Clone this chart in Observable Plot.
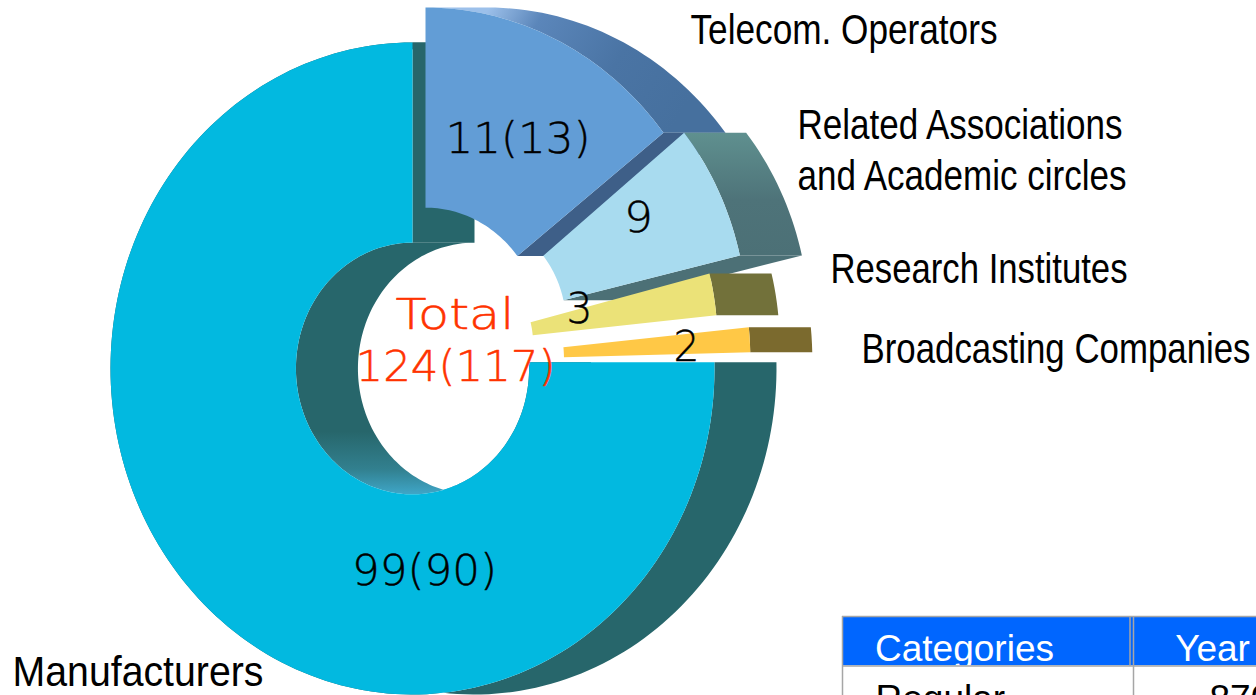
<!DOCTYPE html>
<html>
<head>
<meta charset="utf-8">
<style>html,body{margin:0;padding:0;background:#fff;overflow:hidden} svg{display:block}</style>
<script src="https://cdn.jsdelivr.net/npm/d3@7"></script>
<script src="https://cdn.jsdelivr.net/npm/@observablehq/plot@0.6"></script>
</head>
<body>
<div id="chart"></div>
<script>
// ---- data ----
const categories = ["Manufacturers", "Telecom. Operators", "Related Associations and Academic circles", "Research Institutes", "Broadcasting Companies"];
const valueLabels = ["99(90)", "11(13)", "9", "3", "2"];
const totalLabel = ["Total", "124(117)"];
const tableHeaders = ["Categories", "Year"];
const tableRow = ["Regular", "870"];
// slice angles (degrees clockwise from 12 o'clock)
const sliceStart = [88.9, 0, 51, 75.8, 84.3];
const sliceEnd = [360, 52, 76.8, 84.2, 88.6];

// ---- layout ----
const W = 1256, H = 695;
const rx = 302, ry = 326, depth = 62;
const cx = [412, 425, 463, 449, 440];
const cy = [368, 333, 325, 344, 360];
const rOuter = [1, 1, 0.94, 0.888, 1.026];
const rInner = [0.386, 0.386, 0.34, 0.277, 0.409];
const faceColor = ["#02b9e0", "#629dd6", "#a8dbef", "#ebe278", "#ffc846"];
const wallColor = ["#27666b", "url(#wallTelecom)", "url(#wallResearch)", "#72713a", "#7b6a2e"];
const endColor = ["#27666b", "#3e5f88", "#4c7076", null, null];

function arc(i, r, a0, a1, shift = 0) {
  const n = Math.max(2, Math.ceil(Math.abs(a1 - a0) / 1.5));
  return d3.range(n + 1).map(k => {
    const a = (a0 + (a1 - a0) * k / n) * Math.PI / 180;
    return {x: cx[i] + shift + rx * r * Math.sin(a), y: cy[i] - ry * r * Math.cos(a)};
  });
}
const poly = (pts, fill) => Plot.line(pts, {x: "x", y: "y", fill, stroke: "none", curve: "linear-closed"});

function sliceMarks(i) {
  const a0 = sliceStart[i], a1 = sliceEnd[i], ro = rOuter[i], ri = rInner[i];
  const innerA0 = i === 0 ? 87.2 : a0;
  const marks = [];
  marks.push(poly([...arc(i, ro, a0, a1), ...arc(i, ro, a1, a0, depth)], wallColor[i]));
  if (i === 0) marks.push(poly([...arc(i, ri, innerA0, a1), ...arc(i, ri, a1, innerA0, depth)], "url(#wallHole)"));
  if (endColor[i]) marks.push(poly([...arc(i, ro, a1, a1), ...arc(i, ro, a1, a1, depth).reverse(), ...arc(i, ri, a1, a1, depth), ...arc(i, ri, a1, a1)], endColor[i]));
  marks.push(poly([...arc(i, ro, a0, a1), ...arc(i, ri, a1, innerA0)], faceColor[i]));
  return marks;
}

const defs = () => {
  const ns = "http://www.w3.org/2000/svg";
  const d = document.createElementNS(ns, "defs");
  d.innerHTML = `
    <linearGradient id="wallTelecom" x1="0" y1="0" x2="1" y2="0.25">
      <stop offset="0.2" stop-color="#9cc0ea"/><stop offset="0.38" stop-color="#5b86ba"/><stop offset="0.7" stop-color="#4a74a4"/><stop offset="1" stop-color="#46709e"/>
    </linearGradient>
    <linearGradient id="wallResearch" x1="0" y1="0" x2="0" y2="1">
      <stop offset="0" stop-color="#5f908f"/><stop offset="0.55" stop-color="#4e7379"/><stop offset="1" stop-color="#4c7076"/>
    </linearGradient>
    <linearGradient id="wallHole" x1="0" y1="0" x2="0" y2="1">
      <stop offset="0.75" stop-color="#27666b"/><stop offset="0.9" stop-color="#32808f"/><stop offset="1" stop-color="#3fa6c8"/>
    </linearGradient>`;
  return d;
};

// label layout
const valueX = [424, 517.5, 638, 579, 686];
const valueY = [571, 139, 218, 309, 347];
const valueW = [145, 145, 29, 26, 26];
const catLines = [
  {t: categories[0], x: 12, y: 672, w: 251},
  {t: categories[1], x: 690, y: 30, w: 307},
  {t: "Related Associations", x: 797, y: 125, w: 325},
  {t: "and Academic circles", x: 797, y: 176, w: 329},
  {t: categories[3], x: 830, y: 269, w: 297},
  {t: categories[4], x: 861, y: 349, w: 389}
];
const valueRows = valueLabels.map((t, i) => ({t, x: valueX[i], y: valueY[i], w: valueW[i]}));
const totalRows = [{t: totalLabel[0], x: 454.5, y: 315, w: 119}, {t: totalLabel[1], x: 455, y: 367, w: 200}];

const table = {x0: 842, x1: 1129.5, x2: 1133, top: 616, mid: 665.5, xEnd: 1256};
const R = (x1, x2, y1, y2) => [{x1, x2, y1, y2}];
const rectOpts = {x1: "x1", x2: "x2", y1: "y1", y2: "y2"};

const chart = Plot.plot({
  width: W, height: H, margin: 0,
  style: {background: "#fff", overflow: "hidden"},
  x: {domain: [0, W], range: [0, W], axis: null},
  y: {domain: [0, H], range: [0, H], axis: null},
  marks: [
    defs,
    ...[0, 1, 2, 3, 4].flatMap(sliceMarks),
    Plot.text(valueRows, {x: "x", y: "y", text: "t", fill: "#000", stroke: "#000", strokeWidth: 0.4, fontSize: 42, fontFamily: "DejaVu Sans", fontWeight: 200, className: "fit", title: "w"}),
    Plot.text(totalRows, {x: "x", y: "y", text: "t", fill: "#ff3300", stroke: "#ff3300", strokeWidth: 0.5, fontSize: 42, fontFamily: "DejaVu Sans", fontWeight: 200, className: "fit", title: "w"}),
    Plot.text(catLines, {x: "x", y: "y", text: "t", textAnchor: "start", fill: "#000", fontSize: 42, fontFamily: "Liberation Sans", className: "fit", title: "w"}),
    Plot.rect(R(table.x0, table.xEnd, table.top, table.mid), {...rectOpts, fill: "#0066ff"}),
    Plot.text([{t: tableHeaders[0], x: 964, y: 649}, {t: tableHeaders[1], x: 1212, y: 649}], {x: "x", y: "y", text: "t", fill: "#fff", fontSize: 37, fontFamily: "Liberation Sans"}),
    Plot.rect(R(table.x0, table.xEnd, table.mid, H), {...rectOpts, fill: "#fff"}),
    Plot.text([{t: tableRow[0], x: 875, y: 699}, {t: tableRow[1], x: 1209, y: 699}], {x: "x", y: "y", text: "t", textAnchor: "start", fill: "#000", fontSize: 37, fontFamily: "Liberation Sans"}),
    Plot.ruleY([table.top, table.mid], {x1: table.x0, x2: table.xEnd, stroke: "#a6a6a6", strokeWidth: 1.5}),
    Plot.ruleX([table.x0, table.x2], {y1: table.top, y2: H, stroke: "#a6a6a6", strokeWidth: 1.5}),
    Plot.ruleX([table.x1], {y1: table.top, y2: table.mid, stroke: "#a6a6a6", strokeWidth: 1.5})
  ]
});
document.getElementById("chart").append(chart);
// The reference's labels are squeezed or stretched versions of these typefaces:
// fit each one to the width measured in the reference.
chart.querySelectorAll(".fit text").forEach(t => {
  const title = t.querySelector("title");
  if (!title) return;
  t.setAttribute("textLength", title.textContent);
  t.setAttribute("lengthAdjust", "spacingAndGlyphs");
  title.remove();
});
</script>
</body>
</html>
